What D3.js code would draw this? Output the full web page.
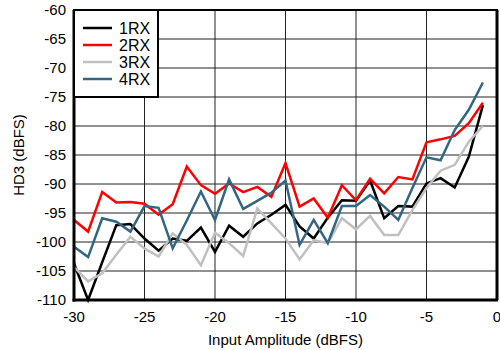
<!DOCTYPE html>
<html><head><meta charset="utf-8">
<script src="https://cdn.jsdelivr.net/npm/d3@7"></script>
<style>body{margin:0;background:#fff}</style>
</head><body><svg id="c" width="500" height="350"></svg>
<script>
const xValues = d3.range(-30, 0, 1);
const rx1 = [-103.7,-110,-103.5,-97.1,-96.9,-99.4,-101.5,-99.4,-99.8,-97.5,-101.7,-97.2,-99.1,-96.8,-95.3,-93.6,-97.3,-99.4,-95.8,-92.8,-92.9,-89.4,-95.9,-93.8,-93.9,-89.9,-89.0,-90.6,-85.3,-76.4];
const rx2 = [-96.2,-98.2,-91.4,-93.2,-93.1,-93.4,-95.3,-93.5,-87.0,-90.2,-91.7,-89.9,-91.4,-90.5,-92.2,-86.4,-93.9,-92.5,-95.8,-90.2,-92.8,-89.1,-91.6,-88.8,-89.2,-82.8,-82.3,-81.7,-79.5,-76.0];
const rx3 = [-104.3,-106.8,-105.4,-102.2,-99.1,-101.1,-102.5,-98.5,-100.5,-104.0,-98.4,-100.2,-102.4,-94.2,-96.8,-99.4,-103.0,-99.7,-100.2,-95.9,-97.8,-95.5,-98.8,-98.8,-94.5,-90.7,-87.7,-86.7,-82.7,-80.0];
const rx4 = [-100.8,-102.6,-95.9,-96.5,-98.2,-93.8,-94.1,-101.1,-96.3,-91.3,-96.2,-89.2,-94.3,-92.9,-91.5,-89.4,-100.5,-96.2,-100.2,-93.8,-93.8,-91.9,-93.9,-96.2,-90.7,-85.4,-85.9,-80.7,-77.2,-72.5];
const seriesNames = ["1RX","2RX","3RX","4RX"];
const seriesColors = ["#000000","#ff0000","#c0c0c0","#336680"];
const xTicks = [-30,-25,-20,-15,-10,-5,0];
const yTicks = [-60,-65,-70,-75,-80,-85,-90,-95,-100,-105,-110];

const svg = d3.select("#c");
const L=74, R=497, T=10, B=300;
const x = d3.scaleLinear().domain([-30,0]).range([L,R]);
const y = d3.scaleLinear().domain([-110,-60]).range([B,T]);
const font = "'Liberation Sans', Arial, sans-serif";

// grid
svg.append("g").selectAll("line").data(xTicks.slice(1,-1)).join("line")
  .attr("x1",d=>x(d)).attr("x2",d=>x(d)).attr("y1",T).attr("y2",B)
  .attr("stroke","#222").attr("stroke-width",1);
svg.append("g").selectAll("line").data(yTicks.slice(1,-1)).join("line")
  .attr("x1",L).attr("x2",R).attr("y1",d=>y(d)).attr("y2",d=>y(d))
  .attr("stroke","#222").attr("stroke-width",1);

// lines
const all = [rx1,rx2,rx3,rx4];
const line = d3.line().x((d,i)=>x(xValues[i])).y(d=>y(d));
all.forEach((s,k)=>{
  svg.append("path").datum(s).attr("d",line).attr("fill","none")
    .attr("stroke",seriesColors[k]).attr("stroke-width",2.5).attr("stroke-linejoin","miter");
});

// border
svg.append("rect").attr("x",L).attr("y",T).attr("width",R-L).attr("height",B-T)
  .attr("fill","none").attr("stroke","#000").attr("stroke-width",2);
svg.append("line").attr("x1",L).attr("x2",L).attr("y1",T).attr("y2",B+1.5).attr("stroke","#000").attr("stroke-width",3);
svg.append("line").attr("x1",L-1.5).attr("x2",R+1).attr("y1",B).attr("y2",B).attr("stroke","#000").attr("stroke-width",3);
svg.append("line").attr("x1",R).attr("x2",R).attr("y1",T).attr("y2",B).attr("stroke","#000").attr("stroke-width",3);

// axes labels
svg.append("g").selectAll("text").data(yTicks).join("text")
  .attr("x",L-8).attr("y",d=>y(d)+5).attr("text-anchor","end")
  .attr("font-family",font).attr("font-size",15).text(d=>d);
svg.append("g").selectAll("text").data(xTicks).join("text")
  .attr("x",d=>x(d)).attr("y",B+22).attr("text-anchor","middle")
  .attr("font-family",font).attr("font-size",15).text(d=>d);
svg.append("text").attr("x",(L+R)/2).attr("y",345).attr("text-anchor","middle")
  .attr("font-family",font).attr("font-size",15).text("Input Amplitude (dBFS)");
svg.append("text").attr("transform",`translate(24,${(T+B)/2}) rotate(-90)`).attr("text-anchor","middle")
  .attr("font-family",font).attr("font-size",15).text("HD3 (dBFS)");

// legend
const lg = svg.append("g");
lg.append("rect").attr("x",L).attr("y",T).attr("width",84).attr("height",87)
  .attr("fill","#fff").attr("stroke","#000").attr("stroke-width",2);
seriesNames.forEach((n,k)=>{
  const yy = T+18+k*17;
  lg.append("line").attr("x1",83).attr("x2",112).attr("y1",yy).attr("y2",yy)
    .attr("stroke",seriesColors[k]).attr("stroke-width",2.5);
  lg.append("text").attr("x",119).attr("y",yy+5.5).attr("font-family",font)
    .attr("font-size",16).text(n);
});
</script></body></html>
